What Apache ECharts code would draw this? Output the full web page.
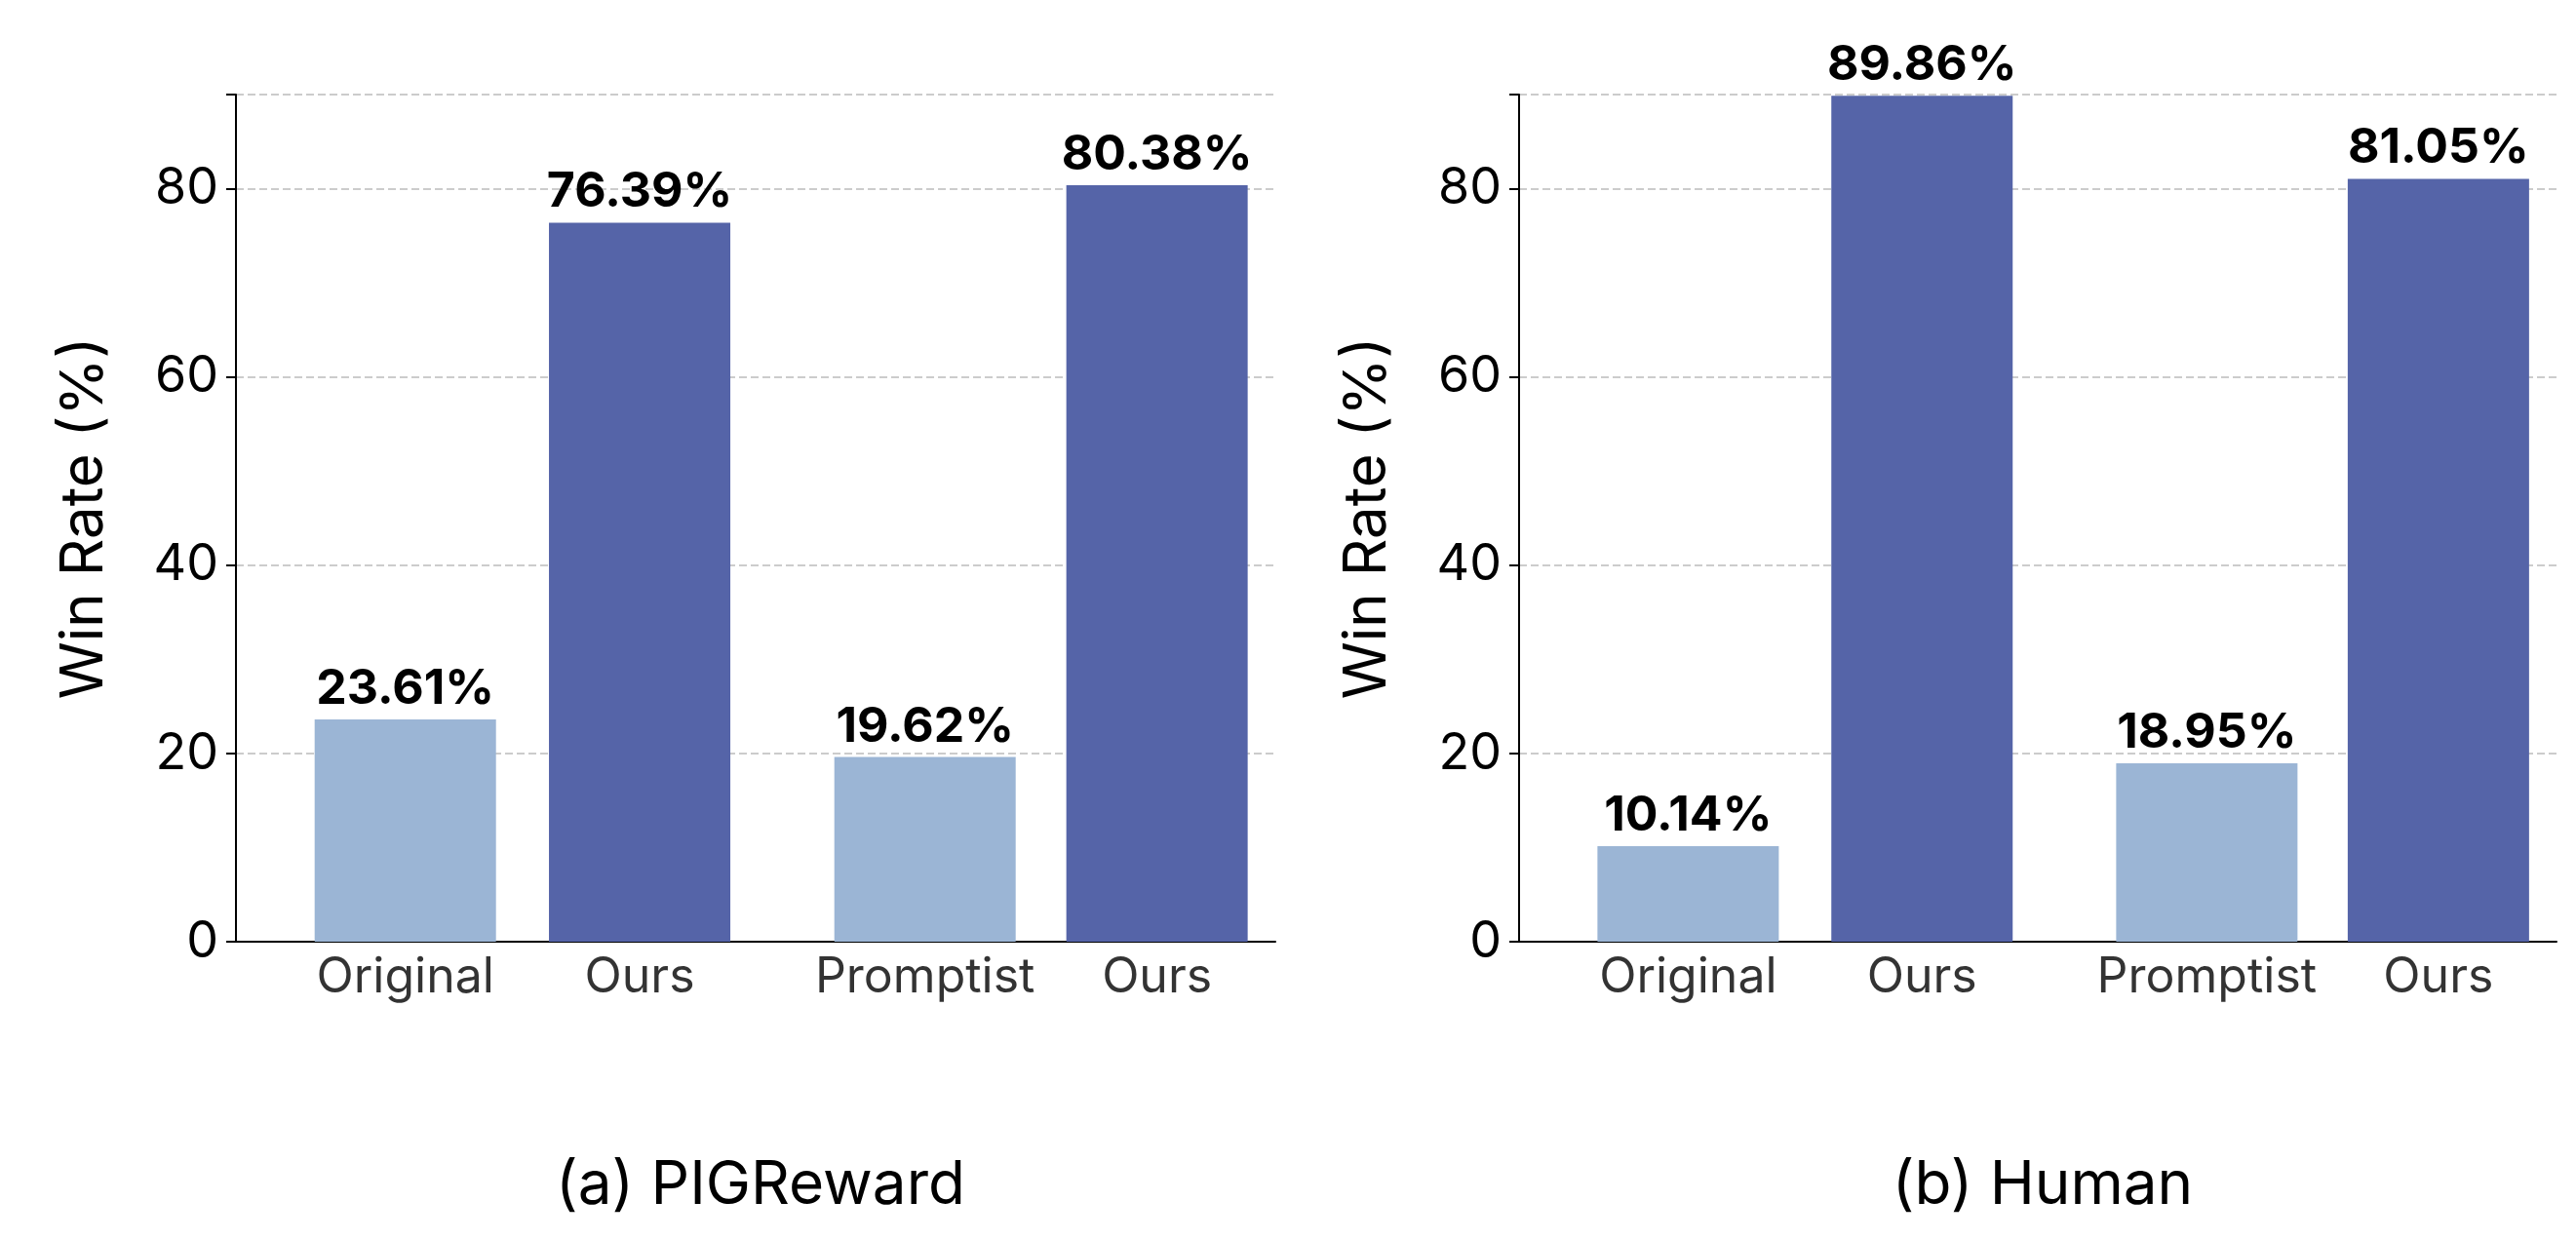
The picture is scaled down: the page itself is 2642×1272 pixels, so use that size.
<!DOCTYPE html>
<html><head><meta charset="utf-8">
<script src="https://cdn.jsdelivr.net/npm/echarts@6/dist/echarts.min.js"></script>
<style>html,body{margin:0;background:#fff}#c{width:2642px;height:1272px}</style>
</head><body><div id="c"></div>
<script>
const categories = ['Original','Ours','Promptist','Ours'];
const xPos = [0.73, 1.74, 2.97, 3.97];
const pigValues = [23.61, 76.39, 19.62, 80.38];
const humanValues = [10.14, 89.86, 18.95, 81.05];
const yTicks = [0,20,40,60,80];
const titles = ['(a) PIGReward','(b) Human'];
const light = '#9BB5D5', dark = '#5564A8';
const F = 'Inter, "Noto Sans", sans-serif';
const chart = echarts.init(document.getElementById('c'));
const grids = [{left:242, width:1066, top:97, bottom:306},{left:1558, width:1064, top:97, bottom:306}];
function xa(i){return {gridIndex:i,type:'value',min:0,max:4.48,axisLabel:{show:false},axisTick:{show:false},splitLine:{show:false},axisLine:{lineStyle:{color:'#000',width:2}}};}
function ya(i){return {gridIndex:i,type:'value',min:0,max:90,interval:20,name:'Win Rate (%)',nameLocation:'middle',nameGap:125,
 nameTextStyle:{fontSize:60,fontFamily:F,color:'#000'},
 axisLine:{show:true,lineStyle:{color:'#000',width:2}},axisTick:{show:true,length:10,lineStyle:{color:'#000',width:2}},
 axisLabel:{fontSize:52,fontFamily:F,color:'#000',margin:18,formatter:v=>yTicks.includes(v)?String(v):''},
 splitLine:{show:true,lineStyle:{type:'dashed',color:'#cccccc',width:2}}};}
function bars(i,vals){return {type:'bar',xAxisIndex:i,yAxisIndex:i,barWidth:186,
 data:vals.map((v,k)=>({value:[xPos[k],v],itemStyle:{color:k%2?dark:light}})),
 label:{show:true,position:'top',distance:6,fontSize:50,fontWeight:'bold',fontFamily:F,color:'#000',formatter:p=>p.value[1].toFixed(2)+'%'}};}
function cats(i){return {type:'scatter',xAxisIndex:i,yAxisIndex:i,symbolSize:0.1,silent:true,
 data:categories.map((c,k)=>({value:[xPos[k],0],name:c})),
 label:{show:true,position:'bottom',distance:12,fontSize:50,fontFamily:F,color:'#000',formatter:p=>p.name}};}
chart.setOption({
 animation:false,
 grid:grids,
 xAxis:[xa(0),xa(1)],
 yAxis:[ya(0),ya(1)],
 title:titles.map((t,i)=>({text:t,left:i?1558+532:242+533,textAlign:'center',top:1180,textStyle:{fontSize:62,fontWeight:'normal',fontFamily:F,color:'#000'}})),
 series:[bars(0,pigValues),bars(1,humanValues),cats(0),cats(1)]
});
</script></body></html>
